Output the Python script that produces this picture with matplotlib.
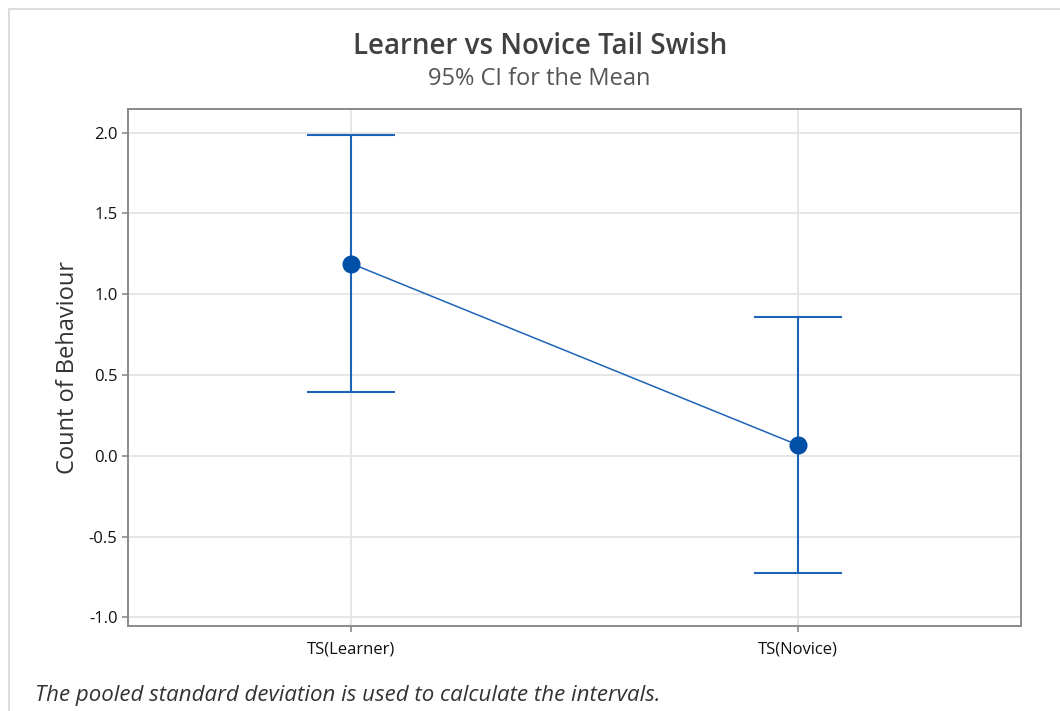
import matplotlib
matplotlib.use("Agg")
import matplotlib.pyplot as plt
from matplotlib.patches import Rectangle

categories = ["TS(Learner)", "TS(Novice)"]
means = [1.19, 0.067]
lower = [0.397, -0.724]
upper = [1.983, 0.858]
yticks = [-1.0, -0.5, 0.0, 0.5, 1.0, 1.5, 2.0]

plt.rcParams['font.family'] = ['Open Sans', 'DejaVu Sans']

W, H = 1060, 711
fig = plt.figure(figsize=(W / 100, H / 100), dpi=100)
fig.patch.set_facecolor("white")

# outer frame
fig.add_artist(Rectangle((9 / W, -0.1), 1.2, 1 - 9 / H + 0.1, transform=fig.transFigure,
                         fill=False, edgecolor="#dcdcdc", linewidth=1.5))

ax = fig.add_axes([128 / W, 1 - 626 / H, (1021 - 128) / W, (626 - 109) / H])

x = list(range(len(categories)))
err_lo = [m - l for m, l in zip(means, lower)]
err_hi = [u - m for m, u in zip(means, upper)]

ax.plot(x, means, color="#1f63b8", linewidth=1.1, zorder=3)
ax.errorbar(x, means, yerr=[err_lo, err_hi], fmt="none", ecolor="#1f63b8",
            elinewidth=1.5, capsize=31.5, capthick=1.5, zorder=3)
ax.plot(x, means, linestyle="none", marker="o", markersize=12,
        color="#0050a8", zorder=4)

ax.set_xlim(-0.5, 1.5)
ax.set_ylim(-1.054, 2.147)
ax.set_xticks(x)
ax.set_xticklabels(categories)
ax.set_yticks(yticks)
ax.set_yticklabels([f"{v:.1f}" for v in yticks])

ax.grid(True, color="#e4e4e4", linewidth=1.3)
ax.set_axisbelow(True)
for s in ax.spines.values():
    s.set_color("#8a8a8a")
    s.set_linewidth(1.4)
ax.tick_params(axis="both", colors="#8a8a8a", length=4, width=1.2,
               labelcolor="#111111", labelsize=12)
ax.tick_params(axis="x", pad=7)
for lbl in ax.get_xticklabels() + ax.get_yticklabels():
    lbl.set_fontweight("medium")

ax.set_ylabel("Count of Behaviour", fontsize=17, color="#333333")
ax.yaxis.set_label_coords(-0.054, 0.5)

fig.text(540 / W, 1 - 46 / H, "Learner vs Novice Tail Swish", ha="center", va="center",
         fontsize=20, fontweight="semibold", color="#404040")
fig.text(539 / W, 1 - 79 / H, "95% CI for the Mean", ha="center", va="center",
         fontsize=17, color="#555555")
fig.text(35 / W, 1 - 695 / H, "The pooled standard deviation is used to calculate the intervals.",
         ha="left", va="center", fontsize=16, style="italic", color="#333333")

fig.savefig("out.png", dpi=100)
